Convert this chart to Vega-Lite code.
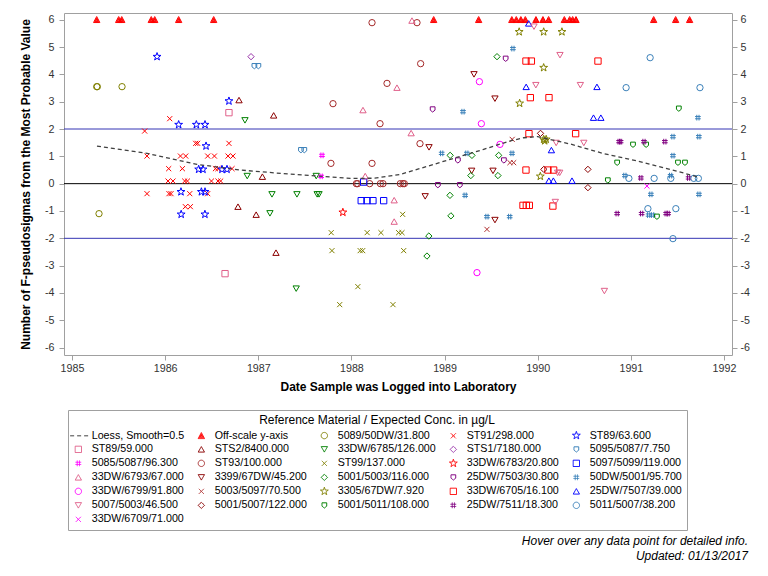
{
"$schema": "https://vega.github.io/schema/vega-lite/v6.json",
"width": 668, "height": 342,
"autosize": "none",
"padding": {"left": 64, "top": 13, "right": 36, "bottom": 221},
"background": "white",
"config": {
  "font": "Liberation Sans",
  "view": {"stroke": "#a0a0a0", "strokeWidth": 1},
  "axis": {"domain": false, "grid": false, "tickColor": "#a0a0a0", "tickSize": 5, "labelFontSize": 10.7, "labelColor": "#333333", "titleFontSize": 12, "titleFontWeight": "bold", "titleColor": "#000000", "labelFont": "Liberation Sans", "titleFont": "Liberation Sans"},
  "legend": {"labelFont": "Liberation Sans", "titleFont": "Liberation Sans", "symbolLimit": 50, "titleLimit": 600, "labelLimit": 300}
},
"title": {"text": ["Hover over any data point for detailed info.", "Updated: 01/13/2017"], "orient": "bottom", "anchor": "end", "frame": "group", "fontSize": 12, "fontStyle": "italic", "fontWeight": "normal", "color": "#000000", "lineHeight": 15.5, "offset": 5, "dx": 16},
"datasets": {
  "ref0": [{"ref": 0}],
  "ref2": [{"ref": 2}, {"ref": -2}],
  "loess": [
    {"d": 1985.268, "v": 1.376, "g": "Loess, Smooth=0.5"},
    {"d": 1985.805, "v": 1.109, "g": "Loess, Smooth=0.5"},
    {"d": 1986.342, "v": 0.706, "g": "Loess, Smooth=0.5"},
    {"d": 1986.8, "v": 0.5, "g": "Loess, Smooth=0.5"},
    {"d": 1987.337, "v": 0.35, "g": "Loess, Smooth=0.5"},
    {"d": 1987.63, "v": 0.278, "g": "Loess, Smooth=0.5"},
    {"d": 1987.989, "v": 0.19, "g": "Loess, Smooth=0.5"},
    {"d": 1988.25, "v": 0.2, "g": "Loess, Smooth=0.5"},
    {"d": 1988.525, "v": 0.34, "g": "Loess, Smooth=0.5"},
    {"d": 1988.704, "v": 0.52, "g": "Loess, Smooth=0.5"},
    {"d": 1989.062, "v": 0.89, "g": "Loess, Smooth=0.5"},
    {"d": 1989.42, "v": 1.255, "g": "Loess, Smooth=0.5"},
    {"d": 1989.699, "v": 1.56, "g": "Loess, Smooth=0.5"},
    {"d": 1989.849, "v": 1.68, "g": "Loess, Smooth=0.5"},
    {"d": 1990.0, "v": 1.72, "g": "Loess, Smooth=0.5"},
    {"d": 1990.35, "v": 1.45, "g": "Loess, Smooth=0.5"},
    {"d": 1990.708, "v": 1.1, "g": "Loess, Smooth=0.5"},
    {"d": 1991.066, "v": 0.83, "g": "Loess, Smooth=0.5"},
    {"d": 1991.424, "v": 0.52, "g": "Loess, Smooth=0.5"},
    {"d": 1991.717, "v": 0.25, "g": "Loess, Smooth=0.5"}
  ],
  "pts": [
    {"d": 1985.265, "v": 6, "g": "Off-scale y-axis"},
    {"d": 1985.501, "v": 6, "g": "Off-scale y-axis"},
    {"d": 1985.534, "v": 6, "g": "Off-scale y-axis"},
    {"d": 1985.851, "v": 6, "g": "Off-scale y-axis"},
    {"d": 1985.888, "v": 6, "g": "Off-scale y-axis"},
    {"d": 1986.145, "v": 6, "g": "Off-scale y-axis"},
    {"d": 1986.521, "v": 6, "g": "Off-scale y-axis"},
    {"d": 1988.883, "v": 6, "g": "Off-scale y-axis"},
    {"d": 1989.366, "v": 6, "g": "Off-scale y-axis"},
    {"d": 1989.722, "v": 6, "g": "Off-scale y-axis"},
    {"d": 1989.77, "v": 6, "g": "Off-scale y-axis"},
    {"d": 1989.819, "v": 6, "g": "Off-scale y-axis"},
    {"d": 1989.867, "v": 6, "g": "Off-scale y-axis"},
    {"d": 1989.981, "v": 6, "g": "Off-scale y-axis"},
    {"d": 1990.056, "v": 6, "g": "Off-scale y-axis"},
    {"d": 1990.117, "v": 6, "g": "Off-scale y-axis"},
    {"d": 1990.286, "v": 6, "g": "Off-scale y-axis"},
    {"d": 1990.343, "v": 6, "g": "Off-scale y-axis"},
    {"d": 1990.375, "v": 6, "g": "Off-scale y-axis"},
    {"d": 1990.411, "v": 6, "g": "Off-scale y-axis"},
    {"d": 1991.245, "v": 6, "g": "Off-scale y-axis"},
    {"d": 1991.481, "v": 6, "g": "Off-scale y-axis"},
    {"d": 1991.631, "v": 6, "g": "Off-scale y-axis"},

    {"d": 1985.265, "v": 3.549, "g": "5089/50DW/31.800"},
    {"d": 1985.272, "v": 3.549, "g": "5089/50DW/31.800"},
    {"d": 1985.537, "v": 3.549, "g": "5089/50DW/31.800"},
    {"d": 1985.29, "v": -1.098, "g": "5089/50DW/31.800"},

    {"d": 1986.049, "v": 2.378, "g": "ST91/298.000"},
    {"d": 1985.78, "v": 1.925, "g": "ST91/298.000"},
    {"d": 1986.328, "v": 1.475, "g": "ST91/298.000"},
    {"d": 1986.349, "v": 1.475, "g": "ST91/298.000"},
    {"d": 1986.685, "v": 1.475, "g": "ST91/298.000"},
    {"d": 1985.805, "v": 1.01, "g": "ST91/298.000"},
    {"d": 1986.164, "v": 1.01, "g": "ST91/298.000"},
    {"d": 1986.221, "v": 1.01, "g": "ST91/298.000"},
    {"d": 1986.457, "v": 1.01, "g": "ST91/298.000"},
    {"d": 1986.529, "v": 1.01, "g": "ST91/298.000"},
    {"d": 1986.675, "v": 1.01, "g": "ST91/298.000"},
    {"d": 1986.728, "v": 1.01, "g": "ST91/298.000"},
    {"d": 1986.038, "v": 0.549, "g": "ST91/298.000"},
    {"d": 1986.185, "v": 0.549, "g": "ST91/298.000"},
    {"d": 1986.54, "v": 0.549, "g": "ST91/298.000"},
    {"d": 1986.567, "v": 0.549, "g": "ST91/298.000"},
    {"d": 1986.718, "v": 0.549, "g": "ST91/298.000"},
    {"d": 1986.031, "v": 0.095, "g": "ST91/298.000"},
    {"d": 1986.084, "v": 0.095, "g": "ST91/298.000"},
    {"d": 1986.21, "v": 0.095, "g": "ST91/298.000"},
    {"d": 1986.239, "v": 0.095, "g": "ST91/298.000"},
    {"d": 1986.497, "v": 0.095, "g": "ST91/298.000"},
    {"d": 1986.567, "v": 0.095, "g": "ST91/298.000"},
    {"d": 1986.596, "v": 0.095, "g": "ST91/298.000"},
    {"d": 1985.805, "v": -0.366, "g": "ST91/298.000"},
    {"d": 1986.041, "v": -0.366, "g": "ST91/298.000"},
    {"d": 1986.063, "v": -0.366, "g": "ST91/298.000"},
    {"d": 1986.264, "v": -0.366, "g": "ST91/298.000"},
    {"d": 1986.457, "v": -0.366, "g": "ST91/298.000"},
    {"d": 1986.217, "v": -0.842, "g": "ST91/298.000"},
    {"d": 1986.271, "v": -0.842, "g": "ST91/298.000"},

    {"d": 1985.913, "v": 4.647, "g": "ST89/63.600"},
    {"d": 1986.685, "v": 3.022, "g": "ST89/63.600"},
    {"d": 1986.145, "v": 2.159, "g": "ST89/63.600"},
    {"d": 1986.335, "v": 2.159, "g": "ST89/63.600"},
    {"d": 1986.428, "v": 2.159, "g": "ST89/63.600"},
    {"d": 1986.439, "v": 1.376, "g": "ST89/63.600"},
    {"d": 1986.36, "v": 0.523, "g": "ST89/63.600"},
    {"d": 1986.406, "v": 0.523, "g": "ST89/63.600"},
    {"d": 1986.61, "v": 0.523, "g": "ST89/63.600"},
    {"d": 1986.664, "v": 0.523, "g": "ST89/63.600"},
    {"d": 1986.17, "v": -0.3, "g": "ST89/63.600"},
    {"d": 1986.389, "v": -0.3, "g": "ST89/63.600"},
    {"d": 1986.428, "v": -0.3, "g": "ST89/63.600"},
    {"d": 1986.172, "v": -1.123, "g": "ST89/63.600"},
    {"d": 1986.427, "v": -1.123, "g": "ST89/63.600"},

    {"d": 1986.685, "v": 2.598, "g": "ST89/59.000"},
    {"d": 1986.643, "v": -3.293, "g": "ST89/59.000"},

    {"d": 1986.793, "v": 3.059, "g": "STS2/8400.000"},
    {"d": 1987.165, "v": 2.499, "g": "STS2/8400.000"},
    {"d": 1987.044, "v": 0.256, "g": "STS2/8400.000"},
    {"d": 1986.782, "v": -0.842, "g": "STS2/8400.000"},
    {"d": 1986.977, "v": -1.134, "g": "STS2/8400.000"},
    {"d": 1987.19, "v": -2.525, "g": "STS2/8400.000"},

    {"d": 1986.857, "v": 2.316, "g": "33DW/6785/126.000"},
    {"d": 1986.881, "v": 0.278, "g": "33DW/6785/126.000"},
    {"d": 1987.147, "v": -0.392, "g": "33DW/6785/126.000"},
    {"d": 1987.125, "v": -1.087, "g": "33DW/6785/126.000"},
    {"d": 1987.415, "v": -0.392, "g": "33DW/6785/126.000"},
    {"d": 1987.632, "v": -0.392, "g": "33DW/6785/126.000"},
    {"d": 1987.652, "v": -0.392, "g": "33DW/6785/126.000"},
    {"d": 1987.407, "v": -3.842, "g": "33DW/6785/126.000"},
    {"d": 1987.622, "v": 0.278, "g": "33DW/6785/126.000"},

    {"d": 1986.922, "v": 4.647, "g": "STS1/7180.000"},

    {"d": 1986.958, "v": 4.303, "g": "5095/5087/7.750"},
    {"d": 1987.001, "v": 4.303, "g": "5095/5087/7.750"},
    {"d": 1987.458, "v": 1.229, "g": "5095/5087/7.750"},
    {"d": 1987.494, "v": 1.229, "g": "5095/5087/7.750"},

    {"d": 1987.684, "v": 1.035, "g": "5085/5087/96.300"},
    {"d": 1987.675, "v": 0.267, "g": "5085/5087/96.300"},

    {"d": 1988.221, "v": 5.891, "g": "ST93/100.000"},
    {"d": 1988.704, "v": 5.891, "g": "ST93/100.000"},
    {"d": 1988.743, "v": 4.391, "g": "ST93/100.000"},
    {"d": 1988.382, "v": 3.67, "g": "ST93/100.000"},
    {"d": 1987.802, "v": 2.927, "g": "ST93/100.000"},
    {"d": 1988.307, "v": 2.195, "g": "ST93/100.000"},
    {"d": 1988.736, "v": 1.464, "g": "ST93/100.000"},
    {"d": 1987.78, "v": 0.743, "g": "ST93/100.000"},
    {"d": 1988.221, "v": 0.743, "g": "ST93/100.000"},
    {"d": 1988.053, "v": 0.0, "g": "ST93/100.000"},
    {"d": 1988.067, "v": 0.0, "g": "ST93/100.000"},
    {"d": 1988.196, "v": 0.0, "g": "ST93/100.000"},
    {"d": 1988.311, "v": 0.0, "g": "ST93/100.000"},
    {"d": 1988.339, "v": 0.0, "g": "ST93/100.000"},
    {"d": 1988.525, "v": 0.0, "g": "ST93/100.000"},
    {"d": 1988.553, "v": 0.0, "g": "ST93/100.000"},
    {"d": 1988.568, "v": 0.0, "g": "ST93/100.000"},

    {"d": 1988.55, "v": -1.123, "g": "ST99/137.000"},
    {"d": 1987.783, "v": -1.793, "g": "ST99/137.000"},
    {"d": 1988.169, "v": -1.793, "g": "ST99/137.000"},
    {"d": 1988.317, "v": -1.793, "g": "ST99/137.000"},
    {"d": 1988.507, "v": -1.793, "g": "ST99/137.000"},
    {"d": 1988.543, "v": -1.793, "g": "ST99/137.000"},
    {"d": 1987.791, "v": -2.451, "g": "ST99/137.000"},
    {"d": 1988.094, "v": -2.451, "g": "ST99/137.000"},
    {"d": 1988.121, "v": -2.451, "g": "ST99/137.000"},
    {"d": 1988.561, "v": -2.451, "g": "ST99/137.000"},
    {"d": 1988.069, "v": -3.769, "g": "ST99/137.000"},
    {"d": 1987.874, "v": -4.427, "g": "ST99/137.000"},
    {"d": 1988.446, "v": -4.427, "g": "ST99/137.000"},

    {"d": 1987.908, "v": -1.05, "g": "33DW/6783/20.800"},

    {"d": 1988.105, "v": -0.622, "g": "5097/5099/119.000"},
    {"d": 1988.167, "v": -0.622, "g": "5097/5099/119.000"},
    {"d": 1988.231, "v": -0.622, "g": "5097/5099/119.000"},
    {"d": 1988.346, "v": -0.622, "g": "5097/5099/119.000"},
    {"d": 1988.131, "v": 0.059, "g": "5097/5099/119.000"},

    {"d": 1988.459, "v": -0.604, "g": "33DW/6793/67.000"},
    {"d": 1988.459, "v": -1.387, "g": "33DW/6793/67.000"},
    {"d": 1988.65, "v": 5.968, "g": "33DW/6793/67.000"},
    {"d": 1988.489, "v": 3.513, "g": "33DW/6793/67.000"},
    {"d": 1988.124, "v": 2.693, "g": "33DW/6793/67.000"},
    {"d": 1988.641, "v": 1.851, "g": "33DW/6793/67.000"},
    {"d": 1988.148, "v": 0.278, "g": "33DW/6793/67.000"},

    {"d": 1989.316, "v": 3.999, "g": "3399/67DW/45.200"},
    {"d": 1989.541, "v": 3.11, "g": "3399/67DW/45.200"},
    {"d": 1988.833, "v": 1.328, "g": "3399/67DW/45.200"},
    {"d": 1989.291, "v": 0.468, "g": "3399/67DW/45.200"},
    {"d": 1989.52, "v": 0.468, "g": "3399/67DW/45.200"},
    {"d": 1988.792, "v": -0.465, "g": "3399/67DW/45.200"},
    {"d": 1989.541, "v": -1.332, "g": "3399/67DW/45.200"},

    {"d": 1989.563, "v": 4.647, "g": "5001/5003/116.000"},
    {"d": 1989.06, "v": 1.035, "g": "5001/5003/116.000"},
    {"d": 1989.294, "v": 1.035, "g": "5001/5003/116.000"},
    {"d": 1989.581, "v": 1.035, "g": "5001/5003/116.000"},
    {"d": 1989.282, "v": 0.296, "g": "5001/5003/116.000"},
    {"d": 1989.573, "v": 0.296, "g": "5001/5003/116.000"},
    {"d": 1989.058, "v": -0.428, "g": "5001/5003/116.000"},
    {"d": 1989.068, "v": -1.178, "g": "5001/5003/116.000"},
    {"d": 1988.831, "v": -1.917, "g": "5001/5003/116.000"},
    {"d": 1988.811, "v": -2.649, "g": "5001/5003/116.000"},

    {"d": 1988.872, "v": 2.719, "g": "25DW/7503/30.800"},
    {"d": 1989.656, "v": 4.574, "g": "25DW/7503/30.800"},
    {"d": 1989.143, "v": 0.853, "g": "25DW/7503/30.800"},
    {"d": 1989.637, "v": 0.853, "g": "25DW/7503/30.800"},
    {"d": 1988.928, "v": -0.051, "g": "25DW/7503/30.800"},
    {"d": 1989.164, "v": -0.051, "g": "25DW/7503/30.800"},

    {"d": 1989.198, "v": 2.634, "g": "50DW/5001/95.700"},
    {"d": 1988.969, "v": 1.109, "g": "50DW/5001/95.700"},
    {"d": 1989.239, "v": 1.109, "g": "50DW/5001/95.700"},
    {"d": 1989.724, "v": 1.109, "g": "50DW/5001/95.700"},
    {"d": 1989.734, "v": 4.943, "g": "50DW/5001/95.700"},
    {"d": 1989.221, "v": -0.428, "g": "50DW/5001/95.700"},
    {"d": 1989.455, "v": -1.207, "g": "50DW/5001/95.700"},
    {"d": 1989.699, "v": -1.207, "g": "50DW/5001/95.700"},
    {"d": 1991.452, "v": 1.72, "g": "50DW/5001/95.700"},
    {"d": 1991.73, "v": 1.72, "g": "50DW/5001/95.700"},
    {"d": 1991.72, "v": 2.415, "g": "50DW/5001/95.700"},
    {"d": 1991.452, "v": 1.025, "g": "50DW/5001/95.700"},
    {"d": 1990.936, "v": 0.296, "g": "50DW/5001/95.700"},
    {"d": 1991.427, "v": 0.296, "g": "50DW/5001/95.700"},
    {"d": 1991.215, "v": -0.392, "g": "50DW/5001/95.700"},
    {"d": 1991.731, "v": -0.392, "g": "50DW/5001/95.700"},
    {"d": 1991.191, "v": -1.149, "g": "50DW/5001/95.700"},
    {"d": 1991.234, "v": -1.149, "g": "50DW/5001/95.700"},

    {"d": 1989.374, "v": 3.732, "g": "33DW/6799/91.800"},
    {"d": 1989.395, "v": 2.195, "g": "33DW/6799/91.800"},
    {"d": 1989.595, "v": 1.438, "g": "33DW/6799/91.800"},
    {"d": 1989.348, "v": -3.256, "g": "33DW/6799/91.800"},

    {"d": 1989.726, "v": 1.621, "g": "5003/5097/70.500"},
    {"d": 1989.702, "v": 0.768, "g": "5003/5097/70.500"},
    {"d": 1989.742, "v": 0.768, "g": "5003/5097/70.500"},
    {"d": 1989.455, "v": -1.672, "g": "5003/5097/70.500"},

    {"d": 1989.801, "v": 5.554, "g": "3305/67DW/7.920"},
    {"d": 1990.064, "v": 5.554, "g": "3305/67DW/7.920"},
    {"d": 1990.26, "v": 5.554, "g": "3305/67DW/7.920"},
    {"d": 1990.064, "v": 4.244, "g": "3305/67DW/7.920"},
    {"d": 1989.806, "v": 2.938, "g": "3305/67DW/7.920"},
    {"d": 1990.064, "v": 1.621, "g": "3305/67DW/7.920"},
    {"d": 1990.091, "v": 1.621, "g": "3305/67DW/7.920"},
    {"d": 1990.075, "v": 1.566, "g": "3305/67DW/7.920"},
    {"d": 1990.028, "v": 0.267, "g": "3305/67DW/7.920"},

    {"d": 1989.874, "v": 4.486, "g": "33DW/6705/16.100"},
    {"d": 1989.932, "v": 4.486, "g": "33DW/6705/16.100"},
    {"d": 1990.647, "v": 4.486, "g": "33DW/6705/16.100"},
    {"d": 1989.921, "v": 3.147, "g": "33DW/6705/16.100"},
    {"d": 1990.121, "v": 3.147, "g": "33DW/6705/16.100"},
    {"d": 1989.906, "v": 1.829, "g": "33DW/6705/16.100"},
    {"d": 1990.407, "v": 1.829, "g": "33DW/6705/16.100"},
    {"d": 1989.874, "v": 0.498, "g": "33DW/6705/16.100"},
    {"d": 1990.11, "v": 0.498, "g": "33DW/6705/16.100"},
    {"d": 1990.171, "v": 0.498, "g": "33DW/6705/16.100"},
    {"d": 1989.842, "v": -0.794, "g": "33DW/6705/16.100"},
    {"d": 1989.878, "v": -0.794, "g": "33DW/6705/16.100"},
    {"d": 1989.91, "v": -0.794, "g": "33DW/6705/16.100"},
    {"d": 1990.163, "v": -0.82, "g": "33DW/6705/16.100"},

    {"d": 1989.903, "v": 5.865, "g": "25DW/7507/39.000"},
    {"d": 1989.876, "v": 3.542, "g": "25DW/7507/39.000"},
    {"d": 1990.636, "v": 3.542, "g": "25DW/7507/39.000"},
    {"d": 1990.599, "v": 2.415, "g": "25DW/7507/39.000"},
    {"d": 1990.678, "v": 2.415, "g": "25DW/7507/39.000"},
    {"d": 1990.147, "v": 1.229, "g": "25DW/7507/39.000"},
    {"d": 1990.12, "v": 0.11, "g": "25DW/7507/39.000"},
    {"d": 1990.168, "v": 0.11, "g": "25DW/7507/39.000"},
    {"d": 1990.368, "v": 0.11, "g": "25DW/7507/39.000"},

    {"d": 1989.96, "v": 5.745, "g": "5007/5003/46.500"},
    {"d": 1990.239, "v": 4.702, "g": "5007/5003/46.500"},
    {"d": 1989.98, "v": 3.604, "g": "5007/5003/46.500"},
    {"d": 1990.458, "v": 3.604, "g": "5007/5003/46.500"},
    {"d": 1990.198, "v": 1.489, "g": "5007/5003/46.500"},
    {"d": 1990.495, "v": 1.489, "g": "5007/5003/46.500"},
    {"d": 1990.214, "v": 0.395, "g": "5007/5003/46.500"},
    {"d": 1990.236, "v": 0.395, "g": "5007/5003/46.500"},
    {"d": 1990.189, "v": -0.673, "g": "5007/5003/46.500"},
    {"d": 1990.716, "v": -3.93, "g": "5007/5003/46.500"},

    {"d": 1990.03, "v": 1.84, "g": "5001/5007/122.000"},
    {"d": 1990.066, "v": 0.523, "g": "5001/5007/122.000"},
    {"d": 1990.539, "v": 0.523, "g": "5001/5007/122.000"},
    {"d": 1990.539, "v": -0.146, "g": "5001/5007/122.000"},

    {"d": 1991.515, "v": 2.748, "g": "5001/5011/108.000"},
    {"d": 1991.023, "v": 1.427, "g": "5001/5011/108.000"},
    {"d": 1991.164, "v": 1.427, "g": "5001/5011/108.000"},
    {"d": 1990.853, "v": 0.768, "g": "5001/5011/108.000"},
    {"d": 1991.506, "v": 0.768, "g": "5001/5011/108.000"},
    {"d": 1991.581, "v": 0.768, "g": "5001/5011/108.000"},
    {"d": 1990.753, "v": 0.121, "g": "5001/5011/108.000"},
    {"d": 1991.28, "v": -1.207, "g": "5001/5011/108.000"},

    {"d": 1990.874, "v": 1.537, "g": "25DW/7511/18.300"},
    {"d": 1990.89, "v": 1.537, "g": "25DW/7511/18.300"},
    {"d": 1991.141, "v": 1.537, "g": "25DW/7511/18.300"},
    {"d": 1991.365, "v": 1.537, "g": "25DW/7511/18.300"},
    {"d": 1991.107, "v": 0.209, "g": "25DW/7511/18.300"},
    {"d": 1991.62, "v": 0.209, "g": "25DW/7511/18.300"},
    {"d": 1990.853, "v": -1.094, "g": "25DW/7511/18.300"},
    {"d": 1991.116, "v": -1.094, "g": "25DW/7511/18.300"},
    {"d": 1991.379, "v": -1.094, "g": "25DW/7511/18.300"},
    {"d": 1991.4, "v": -1.094, "g": "25DW/7511/18.300"},

    {"d": 1991.207, "v": 4.61, "g": "5011/5007/38.200"},
    {"d": 1990.949, "v": 3.513, "g": "5011/5007/38.200"},
    {"d": 1991.742, "v": 3.513, "g": "5011/5007/38.200"},
    {"d": 1990.979, "v": 0.194, "g": "5011/5007/38.200"},
    {"d": 1991.25, "v": 0.194, "g": "5011/5007/38.200"},
    {"d": 1991.429, "v": 0.194, "g": "5011/5007/38.200"},
    {"d": 1991.676, "v": 0.194, "g": "5011/5007/38.200"},
    {"d": 1991.725, "v": 0.194, "g": "5011/5007/38.200"},
    {"d": 1991.183, "v": -0.915, "g": "5011/5007/38.200"},
    {"d": 1991.483, "v": -0.915, "g": "5011/5007/38.200"},
    {"d": 1991.452, "v": -2.012, "g": "5011/5007/38.200"},

    {"d": 1991.173, "v": -0.088, "g": "33DW/6709/71.000"}
  ]
},
"resolve": {"axis": {"y": "independent"}},
"layer": [
  {
    "data": {"name": "ref2"},
    "mark": {"type": "rule", "color": "#3434b4", "strokeWidth": 1},
    "encoding": {"y": {"field": "ref", "type": "quantitative", "scale": {"domain": [-6.27, 6.245], "nice": false, "zero": false}, "axis": null}}
  },
  {
    "data": {"name": "ref0"},
    "mark": {"type": "rule", "color": "#000000", "strokeWidth": 1},
    "encoding": {"y": {"field": "ref", "type": "quantitative", "scale": {"domain": [-6.27, 6.245], "nice": false, "zero": false},
      "axis": {"orient": "right", "title": null, "values": [-6,-5,-4,-3,-2,-1,0,1,2,3,4,5,6], "labelExpr": "datum.value < 0 ? '-' + (-datum.value) : '' + datum.value", "labelPadding": 3}}}
  },
  {
    "data": {"name": "pts"},
    "mark": {"type": "point", "filled": false, "size": 40, "strokeWidth": 1, "opacity": 1},
    "encoding": {
      "x": {"field": "d", "type": "quantitative", "scale": {"domain": [1984.914, 1992.086], "nice": false, "zero": false},
        "axis": {"orient": "bottom", "values": [1985,1986,1987,1988,1989,1990,1991,1992], "format": "d", "title": "Date Sample was Logged into Laboratory", "labelPadding": 3, "titlePadding": 9}},
      "y": {"field": "v", "type": "quantitative", "scale": {"domain": [-6.27, 6.245], "nice": false, "zero": false},
        "axis": {"orient": "left", "title": "Number of F-pseudosigmas from the Most Probable Value", "values": [-6,-5,-4,-3,-2,-1,0,1,2,3,4,5,6], "labelExpr": "datum.value < 0 ? '-' + (-datum.value) : '' + datum.value", "labelPadding": 5, "titlePadding": 12}},
      "color": {"field": "g", "type": "nominal",
        "scale": {"domain": ["Loess, Smooth=0.5","Off-scale y-axis","5089/50DW/31.800","ST91/298.000","ST89/63.600","ST89/59.000","STS2/8400.000","33DW/6785/126.000","STS1/7180.000","5095/5087/7.750","5085/5087/96.300","ST93/100.000","ST99/137.000","33DW/6783/20.800","5097/5099/119.000","33DW/6793/67.000","3399/67DW/45.200","5001/5003/116.000","25DW/7503/30.800","50DW/5001/95.700","33DW/6799/91.800","5003/5097/70.500","3305/67DW/7.920","33DW/6705/16.100","25DW/7507/39.000","5007/5003/46.500","5001/5007/122.000","5001/5011/108.000","25DW/7511/18.300","5011/5007/38.200","33DW/6709/71.000"],
          "range": ["#404040","#ff0000","#808000","#ff0000","#0000ff","#e0608a","#8b0000","#008000","#9933aa","#3a80b9","#ff00ff","#a52a2a","#808000","#ff0000","#0000ff","#e0608a","#8b0000","#008000","#800080","#3a80b9","#ff00ff","#b03030","#808000","#ff0000","#0000ff","#e0608a","#8b0000","#008000","#800080","#3a80b9","#ff00ff"]},
        "legend": {"title": "Reference Material / Expected Conc. in µg/L", "orient": "none", "legendX": 4, "legendY": 397, "direction": "horizontal", "columns": 5, "columnPadding": 11, "rowPadding": 2, "strokeColor": "#a0a0a0", "padding": 5, "titleAnchor": "middle", "titleFontSize": 12, "titleFontWeight": "normal", "titleColor": "#000000", "titlePadding": 3, "labelFontSize": 10.7, "labelColor": "#000000", "symbolSize": 40, "symbolStrokeWidth": 1, "labelOffset": 8}},
      "shape": {"field": "g", "type": "nominal",
        "scale": {"domain": ["Loess, Smooth=0.5","Off-scale y-axis","5089/50DW/31.800","ST91/298.000","ST89/63.600","ST89/59.000","STS2/8400.000","33DW/6785/126.000","STS1/7180.000","5095/5087/7.750","5085/5087/96.300","ST93/100.000","ST99/137.000","33DW/6783/20.800","5097/5099/119.000","33DW/6793/67.000","3399/67DW/45.200","5001/5003/116.000","25DW/7503/30.800","50DW/5001/95.700","33DW/6799/91.800","5003/5097/70.500","3305/67DW/7.920","33DW/6705/16.100","25DW/7507/39.000","5007/5003/46.500","5001/5007/122.000","5001/5011/108.000","25DW/7511/18.300","5011/5007/38.200","33DW/6709/71.000"],
          "range": ["M-2.6,0H3.6",
            "M0,-1L1,0.9L-1,0.9Z M0,-0.6L0.65,0.6L-0.65,0.6Z M0,-0.2L0.3,0.35L-0.3,0.35Z",
            "circle",
            "M-0.8,-0.8L0.8,0.8M-0.8,0.8L0.8,-0.8",
            "M0,-1.3L0.31,-0.42L1.24,-0.4L0.49,0.16L0.76,1.05L0,0.52L-0.76,1.05L-0.49,0.16L-1.24,-0.4L-0.31,-0.42Z",
            "square", "triangle-up", "triangle-down", "diamond",
            "M-0.75,-0.8L0.75,-0.8L0.75,0.25L0,0.85L-0.75,0.25Z",
            "M-0.35,-0.9L-0.35,0.9M0.35,-0.9L0.35,0.9M-0.9,-0.35L0.9,-0.35M-0.9,0.35L0.9,0.35",
            "circle",
            "M-0.8,-0.8L0.8,0.8M-0.8,0.8L0.8,-0.8",
            "M0,-1.3L0.31,-0.42L1.24,-0.4L0.49,0.16L0.76,1.05L0,0.52L-0.76,1.05L-0.49,0.16L-1.24,-0.4L-0.31,-0.42Z",
            "square", "triangle-up", "triangle-down", "diamond",
            "M-0.75,-0.8L0.75,-0.8L0.75,0.25L0,0.85L-0.75,0.25Z",
            "M-0.35,-0.9L-0.35,0.9M0.35,-0.9L0.35,0.9M-0.9,-0.35L0.9,-0.35M-0.9,0.35L0.9,0.35",
            "circle",
            "M-0.8,-0.8L0.8,0.8M-0.8,0.8L0.8,-0.8",
            "M0,-1.3L0.31,-0.42L1.24,-0.4L0.49,0.16L0.76,1.05L0,0.52L-0.76,1.05L-0.49,0.16L-1.24,-0.4L-0.31,-0.42Z",
            "square", "triangle-up", "triangle-down", "diamond",
            "M-0.75,-0.8L0.75,-0.8L0.75,0.25L0,0.85L-0.75,0.25Z",
            "M-0.35,-0.9L-0.35,0.9M0.35,-0.9L0.35,0.9M-0.9,-0.35L0.9,-0.35M-0.9,0.35L0.9,0.35",
            "circle",
            "M-0.8,-0.8L0.8,0.8M-0.8,0.8L0.8,-0.8"]},
        "legend": {"title": "Reference Material / Expected Conc. in µg/L", "orient": "none", "legendX": 4, "legendY": 397, "direction": "horizontal", "columns": 5}}
    }
  },
  {
    "data": {"name": "loess"},
    "mark": {"type": "line", "strokeWidth": 1.3},
    "encoding": {
      "x": {"field": "d", "type": "quantitative", "scale": {"domain": [1984.914, 1992.086], "nice": false, "zero": false}},
      "y": {"field": "v", "type": "quantitative", "scale": {"domain": [-6.27, 6.245], "nice": false, "zero": false}, "axis": null},
      "color": {"field": "g", "type": "nominal", "legend": {"title": "Reference Material / Expected Conc. in µg/L", "orient": "none", "legendX": 4, "legendY": 397, "direction": "horizontal", "columns": 5}},
      "strokeDash": {"field": "g", "type": "nominal",
        "scale": {"domain": ["Loess, Smooth=0.5","Off-scale y-axis","5089/50DW/31.800","ST91/298.000","ST89/63.600","ST89/59.000","STS2/8400.000","33DW/6785/126.000","STS1/7180.000","5095/5087/7.750","5085/5087/96.300","ST93/100.000","ST99/137.000","33DW/6783/20.800","5097/5099/119.000","33DW/6793/67.000","3399/67DW/45.200","5001/5003/116.000","25DW/7503/30.800","50DW/5001/95.700","33DW/6799/91.800","5003/5097/70.500","3305/67DW/7.920","33DW/6705/16.100","25DW/7507/39.000","5007/5003/46.500","5001/5007/122.000","5001/5011/108.000","25DW/7511/18.300","5011/5007/38.200","33DW/6709/71.000"],
          "range": [[4,3],[1,0],[1,0],[1,0],[1,0],[1,0],[1,0],[1,0],[1,0],[1,0],[1,0],[1,0],[1,0],[1,0],[1,0],[1,0],[1,0],[1,0],[1,0],[1,0],[1,0],[1,0],[1,0],[1,0],[1,0],[1,0],[1,0],[1,0],[1,0],[1,0],[1,0]]},
        "legend": {"title": "Reference Material / Expected Conc. in µg/L", "orient": "none", "legendX": 4, "legendY": 397, "direction": "horizontal", "columns": 5}}
    }
  }
]
}
